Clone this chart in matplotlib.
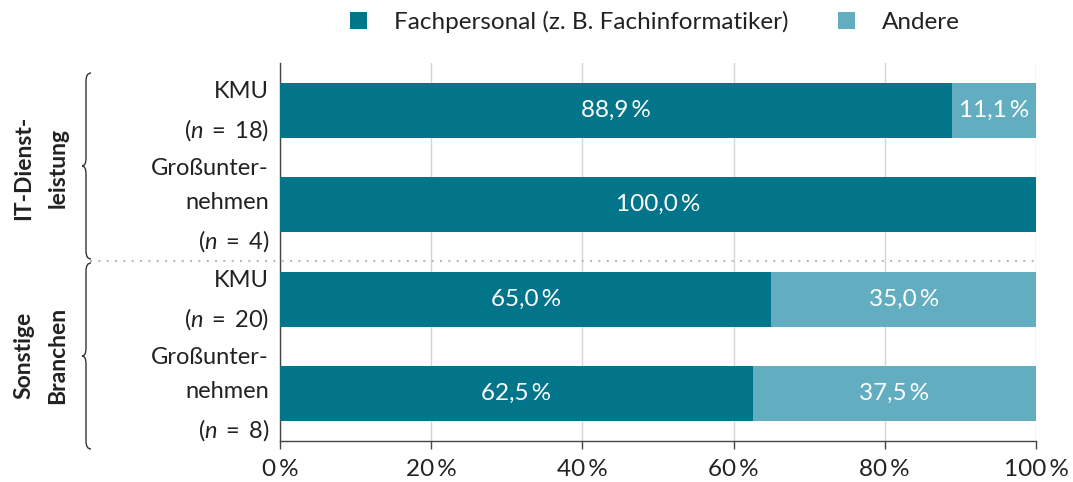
import numpy as np
import matplotlib.pyplot as plt
from matplotlib.patches import Patch, PathPatch
from matplotlib.path import Path
from matplotlib.lines import Line2D
from matplotlib.transforms import ScaledTranslation

# ---------------------------------------------------------------------------
# Data
# ---------------------------------------------------------------------------
row_labels = [
    "KMU\n($n\\;=\\;18$)",
    "Großunter-\nnehmen\n($n\\;=\\;4$)",
    "KMU\n($n\\;=\\;20$)",
    "Großunter-\nnehmen\n($n\\;=\\;8$)",
]
fachpersonal = [88.9, 100.0, 65.0, 62.5]
andere = [11.1, 0.0, 35.0, 37.5]
series_names = ["Fachpersonal (z. B. Fachinformatiker)", "Andere"]
group_labels = ["IT-Dienst-\nleistung", "Sonstige\nBranchen"]
x_ticks = [0, 20, 40, 60, 80, 100]

DARK = "#02758B"
LIGHT = "#62ADBF"
TEXT = "#222222"
GT = "\u2009"  # thin space

plt.rcParams["font.family"] = ["Lato", "DejaVu Sans"]
plt.rcParams["mathtext.fontset"] = "custom"
plt.rcParams["mathtext.rm"] = "Lato"
plt.rcParams["mathtext.it"] = "Lato:italic"
plt.rcParams["mathtext.bf"] = "Lato:bold"

W, H = 1073, 482
fig = plt.figure(figsize=(W / 100, H / 100), dpi=100)


def fx(px):
    return px / W


def fy(py):
    return 1 - py / H


ax = fig.add_axes([fx(280), fy(441), fx(1036) - fx(280), fy(63) - fy(441)])

y = np.arange(len(row_labels))
ax.barh(y, fachpersonal, height=0.58, color=DARK, zorder=3)
ax.barh(y, andere, left=fachpersonal, height=0.58, color=LIGHT, zorder=3)

# value labels
for i in range(len(y)):
    if fachpersonal[i] > 0:
        ax.text(fachpersonal[i] / 2, y[i], f"{fachpersonal[i]:.1f}".replace(".", ",") + GT + "%",
                ha="center", va="center", color="white", fontsize=17.5, zorder=4)
    if andere[i] > 0:
        ax.text(fachpersonal[i] + andere[i] / 2, y[i], f"{andere[i]:.1f}".replace(".", ",") + GT + "%",
                ha="center", va="center", color="white", fontsize=17.5, zorder=4)

ax.set_xlim(0, 100)
ax.set_ylim(3.5, -0.5)
ax.set_xticks(x_ticks)
ax.set_xticklabels([f"{t}{GT}%" for t in x_ticks], fontsize=17.5, color=TEXT)
ax.set_yticks(y)
ax.set_yticklabels(row_labels, fontsize=17, color=TEXT, linespacing=1.75)
ax.tick_params(axis="y", length=0, pad=8)
ax.tick_params(axis="x", length=6, width=1, color="#444444", direction="out", pad=7)
# math lines sit a little low, nudge the labels up
for lbl in ax.get_yticklabels():
    lbl.set_transform(lbl.get_transform() + ScaledTranslation(0, 0.09, fig.dpi_scale_trans))
ax.grid(axis="x", color="#D5D5D5", linewidth=1, zorder=0)
ax.set_axisbelow(True)
for s in ["top", "right"]:
    ax.spines[s].set_visible(False)
for s in ["left", "bottom"]:
    ax.spines[s].set_color("#444444")
    ax.spines[s].set_linewidth(1)

# separator between groups
fig.add_artist(Line2D([fx(90), fx(1036)], [fy(261), fy(261)], transform=fig.transFigure,
                      color="#BBBBBB", linewidth=1.5, linestyle=(0, (1, 3))))

# braces
def brace(x, top, bottom):
    mid = (top + bottom) / 2
    pts = [
        (x + 5, top), (x, top), (x, top + 8),
        (x, mid - 8),
        (x, mid), (x - 4, mid), (x, mid), (x, mid + 8),
        (x, bottom - 8),
        (x, bottom), (x + 5, bottom),
    ]
    codes = [Path.MOVETO, Path.CURVE3, Path.CURVE3, Path.LINETO,
             Path.CURVE3, Path.CURVE3, Path.CURVE3, Path.CURVE3,
             Path.LINETO, Path.CURVE3, Path.CURVE3]
    verts = [(fx(a), fy(b)) for a, b in pts]
    fig.add_artist(PathPatch(Path(verts, codes), transform=fig.transFigure,
                             facecolor="none", edgecolor="#333333", linewidth=1))


brace(86, 73, 259)
brace(86, 263, 449)

# group labels
fig.text(fx(41), fy(168), group_labels[0], rotation=90, ha="center", va="center",
         fontsize=16.5, fontweight="bold", color=TEXT, linespacing=1.75)
fig.text(fx(41), fy(355), group_labels[1], rotation=90, ha="center", va="center",
         fontsize=16.5, fontweight="bold", color=TEXT, linespacing=1.75)

# legend
handles = [Patch(facecolor=DARK), Patch(facecolor=LIGHT)]
fig.legend(handles, series_names, loc="center", bbox_to_anchor=(fx(655), fy(22)),
           ncol=2, frameon=False, fontsize=17.5, handlelength=0.7, handleheight=0.7,
           handletextpad=1.1, columnspacing=2.05, labelcolor=TEXT)

fig.savefig("out.png", dpi=100)
